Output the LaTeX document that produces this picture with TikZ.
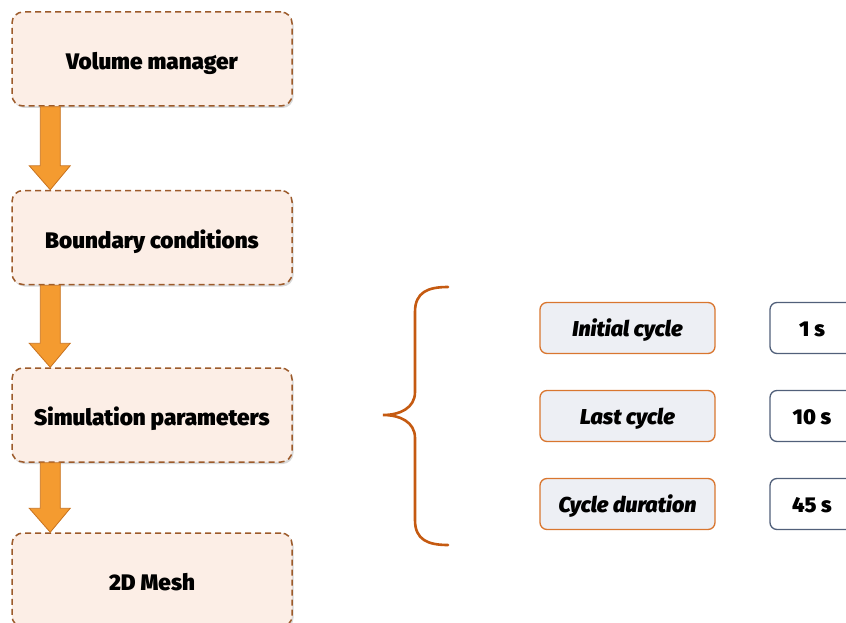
\documentclass[tikz,border=0pt]{standalone}
\usepackage{fontspec}
\setmainfont{Fira Sans}[BoldFont={Fira Sans Black}, BoldItalicFont={Fira Sans Black Italic}]
\usetikzlibrary{calc,shadows}

\definecolor{stepfill}{HTML}{FCEEE6}
\definecolor{stepedge}{HTML}{9C5A2A}
\definecolor{arrowfill}{HTML}{F49B30}
\definecolor{arrowedge}{HTML}{C8721E}
\definecolor{bracecol}{HTML}{C55A11}
\definecolor{labelfill}{HTML}{EDEFF4}
\definecolor{labeledge}{HTML}{D9762F}
\definecolor{valueedge}{HTML}{51607A}

\tikzset{
  stepbox/.style={draw=stepedge, fill=stepfill, dashed, dash pattern=on 6pt off 4pt,
    line width=1.5pt, rounded corners=11pt, minimum width=280pt, minimum height=94pt,
    text height=21.5pt, text depth=0pt,
    font=\fontsize{22.5}{26}\selectfont\bfseries,
    drop shadow={shadow xshift=1.5pt, shadow yshift=-2pt, opacity=0.25, fill=black!60}},
  labelbox/.style={draw=labeledge, fill=labelfill, line width=1.3pt, rounded corners=7pt,
    minimum width=175pt, minimum height=51pt, text height=16.5pt, text depth=0pt,
    font=\fontsize{21.5}{25}\selectfont\bfseries\itshape},
  valuebox/.style={draw=valueedge, fill=white, line width=1.3pt, rounded corners=7pt,
    minimum width=84pt, minimum height=51pt, text height=16.5pt, text depth=0pt,
    font=\fontsize{21.5}{25}\selectfont\bfseries},
  flowarrow/.style={fill=arrowfill, draw=arrowedge, line width=0.8pt, line join=miter},
  bracestyle/.style={draw=bracecol, line width=2.6pt, line cap=round}
}

% block arrow from the bottom of one step to the top of the next
\newcommand\stepflow[2]{%
  \path let \p1=(#1.south west), \p2=(#2.north west) in
    [flowarrow] (\x1+29pt,\y1) -- (\x1+49pt,\y1) -- (\x1+49pt,\y2+24pt)
    -- (\x1+59pt,\y2+24pt) -- (\x1+39pt,\y2) -- (\x1+18pt,\y2+24pt)
    -- (\x1+29pt,\y2+24pt) -- cycle;}

\begin{document}
\begin{tikzpicture}[x=1pt, y=-1pt]
  \useasboundingbox (0,0) rectangle (846,623);

  % processing steps
  \node[stepbox] (vm) at (152,59) {Volume manager};
  \node[stepbox] (bc) at (152,237.5) {Boundary conditions};
  \node[stepbox] (sp) at (152,415) {Simulation parameters};
  \node[stepbox] (mesh) at (152,580) {2D Mesh};

  \stepflow{vm}{bc}
  \stepflow{bc}{sp}
  \stepflow{sp}{mesh}

  % curly brace grouping the parameters
  \draw[bracestyle] (448,287) .. controls (428,287) and (415,292) .. (415,312)
    -- (415,392) .. controls (415,408) and (400,415) .. (383,415)
    .. controls (400,415) and (415,422) .. (415,438)
    -- (415,520) .. controls (415,540) and (428,545) .. (448,545);

  % parameter names and values
  \node[labelbox] (ic) at (627.5,328) {Initial cycle};
  \node[labelbox] (lc) at (627.5,416) {Last cycle};
  \node[labelbox] (cd) at (627.5,504) {Cycle duration};

  \node[valuebox] (icv) at (812,328) {1 s};
  \node[valuebox] (lcv) at (812,416) {10 s};
  \node[valuebox] (cdv) at (812,504) {45 s};
\end{tikzpicture}
\end{document}
